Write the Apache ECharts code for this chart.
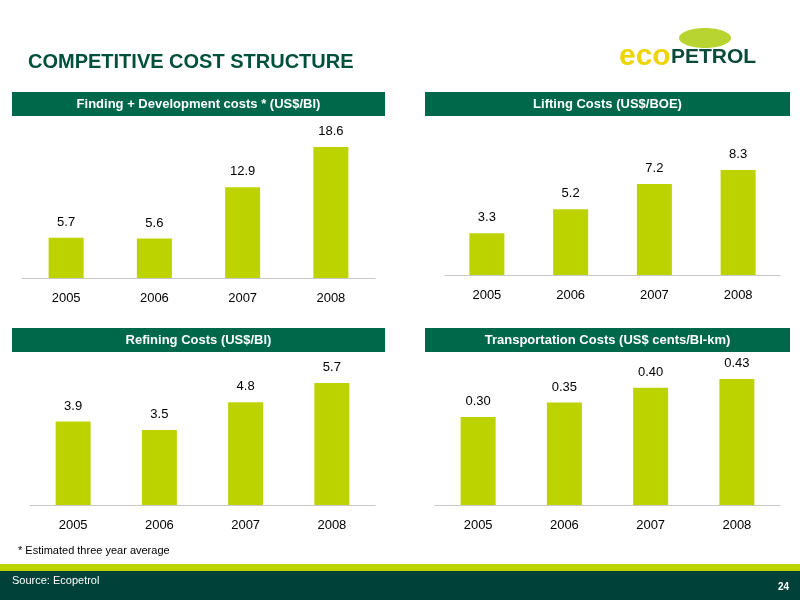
<!DOCTYPE html>
<html>
<head>
<meta charset="utf-8">
<script src="https://cdn.jsdelivr.net/npm/echarts@6/dist/echarts.min.js"></script>
<style>html,body{margin:0;padding:0;background:#fff}#main{width:800px;height:600px}</style>
</head>
<body>
<div id="main"></div>
<script>
var years = ['2005', '2006', '2007', '2008'];
var findingDev = [5.7, 5.6, 12.9, 18.6];
var lifting = [3.3, 5.2, 7.2, 8.3];
var refining = [3.9, 3.5, 4.8, 5.7];
var transport = [0.30, 0.35, 0.40, 0.43];
var panelTitles = ['Finding + Development costs * (US$/Bl)', 'Lifting Costs (US$/BOE)',
                   'Refining Costs (US$/Bl)', 'Transportation Costs (US$ cents/Bl-km)'];

var green = '#bcd300', dark = '#00684a', font = 'Liberation Sans';
// grid boxes: left, right, top, bottom
var grids = [
    {left: 22, right: 425, top: 147, bottom: 322},
    {left: 445, right: 20, top: 170, bottom: 325},
    {left: 30, right: 425, top: 383, bottom: 95},
    {left: 435, right: 20, top: 379, bottom: 95}
];
var data = [findingDev, lifting, refining, transport];
var decimals = [1, 1, 1, 2];

var headers = [[12, 92, 373], [425, 92, 365], [12, 328, 373], [425, 328, 365]];
var graphic = [];
headers.forEach(function (h, i) {
    graphic.push({type: 'rect', shape: {x: h[0], y: h[1], width: h[2], height: 24}, style: {fill: dark}});
    graphic.push({type: 'text', x: h[0] + h[2] / 2, y: h[1] + 12,
        style: {text: panelTitles[i], fill: '#fff', font: 'bold 13px ' + font, align: 'center', verticalAlign: 'middle'}});
});
graphic.push({type: 'text', x: 28, y: 62, style: {text: 'COMPETITIVE COST STRUCTURE', fill: '#00503c', font: 'bold 20px ' + font, verticalAlign: 'middle'}});
graphic.push({type: 'ellipse', shape: {cx: 705, cy: 38, rx: 26, ry: 10}, style: {fill: '#b8d430'}});
graphic.push({type: 'text', x: 619, y: 57, style: {text: 'eco', fill: '#eed400', font: 'bold 30px ' + font, verticalAlign: 'middle'}});
graphic.push({type: 'text', x: 671, y: 57, style: {text: 'PETROL', fill: '#0b4a3a', font: 'bold 21px ' + font, verticalAlign: 'middle'}});
graphic.push({type: 'text', x: 18, y: 551, style: {text: '* Estimated three year average', fill: '#000', font: '11px ' + font, verticalAlign: 'middle'}});
graphic.push({type: 'rect', shape: {x: 0, y: 564, width: 800, height: 7}, style: {fill: '#bcd300'}});
graphic.push({type: 'rect', shape: {x: 0, y: 571, width: 800, height: 29}, style: {fill: '#00423a'}});
graphic.push({type: 'text', x: 12, y: 581, style: {text: 'Source: Ecopetrol', fill: '#fff', font: '11px ' + font, verticalAlign: 'middle'}});
graphic.push({type: 'text', x: 778, y: 587, style: {text: '24', fill: '#fff', font: 'bold 10px ' + font, verticalAlign: 'middle'}});

var option = {
    animation: false,
    grid: grids,
    graphic: graphic,
    xAxis: grids.map(function (g, i) {
        return {type: 'category', gridIndex: i, data: years,
            axisLine: {lineStyle: {color: '#c8c8c8'}}, axisTick: {show: false},
            axisLabel: {color: '#000', fontSize: 13, fontFamily: font, margin: 14}};
    }),
    yAxis: grids.map(function (g, i) {
        return {type: 'value', gridIndex: i, min: 0, max: Math.max.apply(null, data[i]), show: false, splitLine: {show: false}};
    }),
    series: data.map(function (d, i) {
        return {type: 'bar', xAxisIndex: i, yAxisIndex: i, data: d, barWidth: 35,
            itemStyle: {color: green},
            label: {show: true, position: 'top', distance: 9, color: '#000', fontSize: 13, fontFamily: font,
                formatter: function (p) { return p.value.toFixed(decimals[i]); }}};
    })
};
echarts.init(document.getElementById('main')).setOption(option);
</script>
</body>
</html>
